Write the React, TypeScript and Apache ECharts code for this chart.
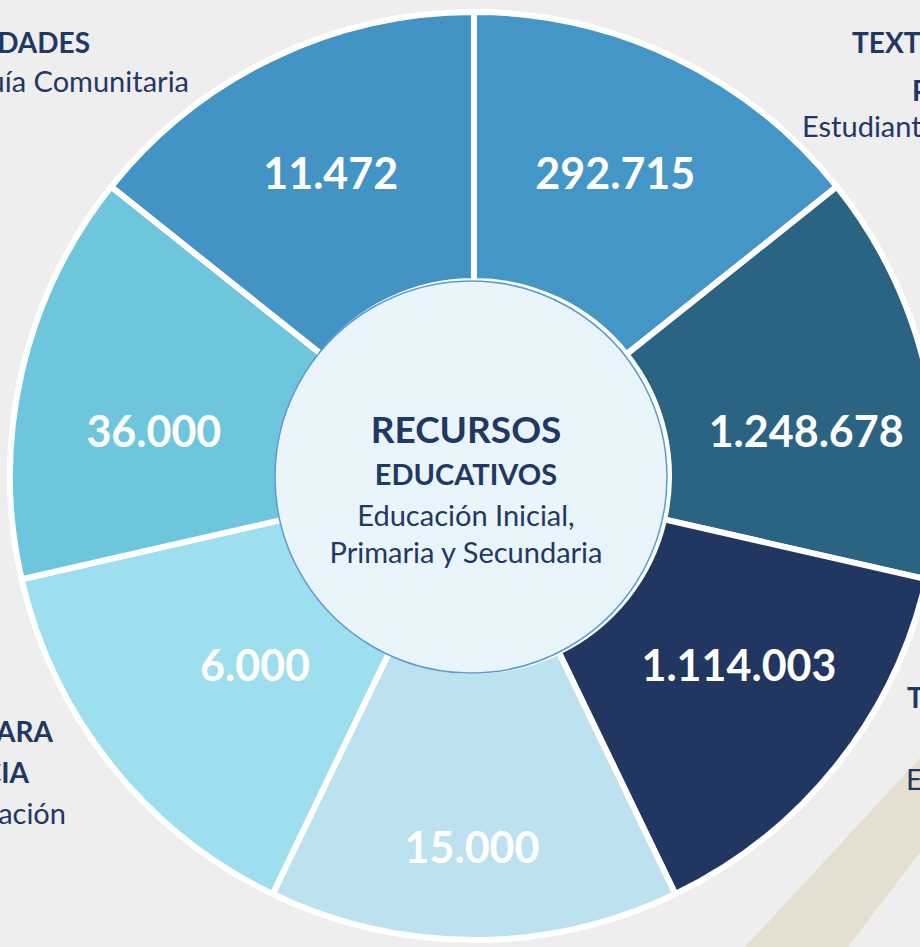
import React, { useEffect, useRef } from "react";
import * as echarts from "echarts";

// Slices clockwise from 12 o'clock
const sliceKeys = ["textos", "textosDocentes", "textosTecnicos", "recursos15", "recursosPara", "recursos36", "actividades"];
const sliceCounts = [292715, 1248678, 1114003, 15000, 6000, 36000, 11472];
// All slices are drawn with equal size in the reference
const sliceShare = [1, 1, 1, 1, 1, 1, 1];
const sliceColors = ["#4396c6", "#2b6382", "#213762", "#bce2ef", "#9ddfee", "#6ec6dd", "#4394c4"];

const centerLines = ["RECURSOS", "EDUCATIVOS", "Educación Inicial,", "Primaria y Secundaria"];

const NAVY = "#1f3864";
const FONT = "Lato";

const fmt = (n: number) => String(n).replace(/\B(?=(\d{3})+(?!\d))/g, ".");

// label nudges to match hand placement in the reference
const labelNudge: [number, number][] = [
  [-3, -4], [8, 28], [5, -19], [-2, 38], [41, -19], [4, 28], [1, -4],
];

export default function App() {
  const ref = useRef<HTMLDivElement>(null);
  useEffect(() => {
    if (!ref.current) return;
    const chart = echarts.init(ref.current, undefined, { renderer: "svg" });
    const txt = (text: string, x: number, y: number, size: number, weight: string, align: string) => ({
      type: "text",
      x,
      y,
      z: 100,
      style: {
        text,
        fill: NAVY,
        font: `${weight} ${size}px ${FONT}`,
        align,
        textAlign: align,
        verticalAlign: "middle",
        textVerticalAlign: "middle",
      },
    });
    chart.setOption({
      animation: false,
      backgroundColor: "#eeeeee",
      graphic: [
        {
          type: "polygon",
          z: -10,
          shape: { points: [[745, 947], [920, 758], [920, 852], [848, 947]] },
          style: { fill: "#e4dfd1" },
        },
        {
          type: "circle",
          z: 100,
          shape: { cx: 471, cy: 477, r: 196 },
          style: { fill: "#eaf5fb", stroke: "#5b9bd5", lineWidth: 1.5 },
        },
        txt(centerLines[0], 466, 428, 37, "bold", "center"),
        txt(centerLines[1], 466, 473, 29, "bold", "center"),
        txt(centerLines[2], 466, 514, 29, "normal", "center"),
        txt(centerLines[3], 466, 551, 29, "normal", "center"),
        // cut-off outer captions
        txt("ACTIVIDADES", 90, 42, 28, "bold", "right"),
        txt("Guía Comunitaria", 189, 80, 29, "normal", "right"),
        txt("TEXTOS ESCOLARES", 852, 42, 28, "bold", "left"),
        txt("PARA", 912, 90, 28, "bold", "left"),
        txt("Estudiantes", 802, 125, 29, "normal", "left"),
        txt("MATERIAL PARA", 53, 731, 28, "bold", "right"),
        txt("LA DOCENCIA", 29, 772, 28, "bold", "right"),
        txt("Capacitación", 66, 812, 29, "normal", "right"),
        txt("TEXTOS", 907, 697, 28, "bold", "left"),
        txt("Estudiantes", 906, 778, 29, "normal", "left"),
      ],
      series: [
        {
          type: "pie",
          center: [474, 476],
          radius: [195, 464],
          startAngle: 90,
          clockwise: true,
          silent: true,
          avoidLabelOverlap: false,
          itemStyle: { borderColor: "#ffffff", borderWidth: 6 },
          label: {
            show: true,
            position: "inside",
            color: "#ffffff",
            fontFamily: FONT,
            fontWeight: "bold",
            fontSize: 43,
            formatter: (p: any) => fmt(sliceCounts[p.dataIndex]),
          },
          labelLine: { show: false },
          labelLayout: (p: any) => ({ dx: labelNudge[p.dataIndex][0], dy: labelNudge[p.dataIndex][1] }),
          data: sliceKeys.map((k, i) => ({
            name: k,
            value: sliceShare[i],
            itemStyle: { color: sliceColors[i] },
          })),
        },
      ],
    });
    return () => chart.dispose();
  }, []);
  return <div ref={ref} style={{ position: "fixed", left: 0, top: 0, width: 920, height: 947 }} />;
}
